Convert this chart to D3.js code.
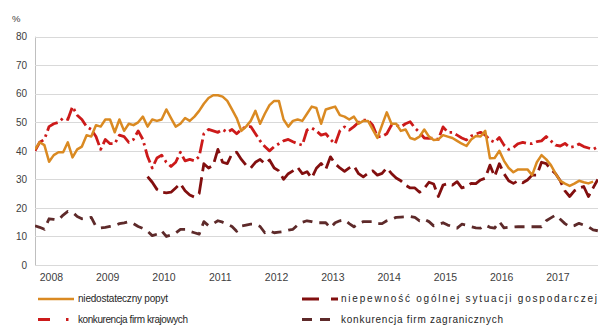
<!DOCTYPE html>
<html><head><meta charset="utf-8">
<script src="https://cdn.jsdelivr.net/npm/d3@7"></script>
<style>
body{margin:0;background:#fff}
svg{display:block}
text{font-family:"Liberation Sans",Arial,sans-serif}
</style>
</head><body>
<svg id="c" width="598" height="326"></svg>
<script>
// ---- data (monthly, first point = March 2008) ----
const years = [2008,2009,2010,2011,2012,2013,2014,2015,2016,2017];
const yTicks = [0,10,20,30,40,50,60,70,80];
const seriesNames = ["niedostateczny popyt","niepewność ogólnej sytuacji gospodarczej","konkurencja firm krajowych","konkurencja firm zagranicznych"];

const popyt = [40.5,43,42,36.2,38.5,39.5,39.5,43,37.7,40.5,41.5,45.5,45,49,48.5,51,51,46.5,51,47,
49.5,49,50,52,48.5,51,50.5,51,54.5,51.5,48.5,49.5,51.5,50.5,52,54,56.5,58.5,59.5,59.5,
59,57.5,54.5,51.5,47,48.5,50.5,54,49.5,53,56,57.5,57.5,51,48.5,50.5,51,50.5,53,55.5,
55,49.5,54.5,55,55.5,52.5,52,51,52,49.5,50.5,50.5,47.5,44.5,49,53.5,49.5,49.5,47,47.5,
44.5,44,45,47.5,45,43.8,44,45.5,45,44.5,43.5,42.5,41.7,44,45.2,45,47,37.4,37.5,40,
36.5,34,32.5,33.5,33.5,33.5,31.5,36,38.5,37,35,32,29.5,28.5,27.7,28.5,29.5,29,28.6,29.2];

const krajowe = [40,43,44,48.5,49.5,50,51.5,51,55.5,52.5,51,48.5,47.5,45,40.5,44,42.5,42.5,45.5,45,
43,44,47,44,38,34,37.5,38.5,36,34.5,36,39.5,36.5,37,36.5,38,46,47.5,47,46.5,
47.5,46.5,47.5,46,47.5,48.5,48.5,46,43.5,41.5,40,41.5,42.5,43.5,44,43.2,42.5,42,47.3,48,
47,45.5,46,44,42.4,47,48.4,47.3,48.5,50,50.8,50.8,49,45,45,46,49,49,48.4,49.5,
50.2,48,46.5,44.5,44.4,44.5,44,48.4,46.5,46.5,45.5,44.5,43.8,45.2,45.9,46.5,45.5,43.8,43,44.7,
42,40.5,41.2,42.5,43,42.6,42.5,43.2,43.5,45,43.5,42,41.7,42.6,41.2,41.5,42.4,41.5,41,40.5,41.4];

const niepewnosc = [null,null,null,null,null,null,null,null,null,null,null,null,null,null,null,null,null,null,null,null,
null,null,null,null,31,29,26.5,25.5,25.3,25.5,27,28.5,26,24.5,23.8,25,35.5,34,35,40.5,
36,35.5,39,39.5,37,35,34,36,37,35.5,36.8,34,33,30,32,33,34.2,32,32.7,30.5,
33.9,35.6,33.5,37.9,35.5,34,32.8,34,34.7,32,30.9,32.1,33,31.5,32.1,34,32.1,30.5,29.5,28,
27,27,25.5,26.9,29,28.4,24,28,28.5,28,29.2,27,27.5,28.6,28.5,29.8,30.4,35,31,35.5,
32,29.5,28.6,29.5,28.8,29.8,31.5,31.5,36,35.5,33.5,32,29.5,26,24,26,27,27.5,24,27,30];

const zagraniczne = [13.7,13.2,12.5,16.2,16,15.8,17.5,18.8,18.5,17,16.2,16.3,16.7,13.5,13,13.2,13.5,13.8,14.5,14.8,
15.2,14.5,13.5,12.8,11.8,10.3,10.8,12,10,10.5,11.2,12.5,12.5,11.8,11.3,10.8,15.2,13.8,14.5,15.5,
15,14.3,13.5,11.8,13.7,14,14.3,14.3,13.5,11.3,12,11.3,11.5,11.7,12.2,12.5,14,15,15.5,15.2,
14.8,14.8,14.8,13,14.8,15.5,15.8,14.5,13.4,14.5,15.2,15.2,15.2,14.5,14.5,15.5,16,16.7,16.8,16.9,
17,16.7,15.5,16,15.2,13.7,14.2,14.8,14,13.5,12.9,14.3,14,13.4,13,12.9,14,13.2,12.9,15.2,
13,13.2,13.3,13.4,13.4,13.4,13.4,13.4,13.4,15.5,16.5,17.5,16,14.5,13.4,13.8,14.6,14,13.4,12.3,12];

// ---- layout ----
const W = 598, H = 326;
const mLeft = 35, mTop = 36.7, mBottom = 265, monthW = 4.69;
const svg = d3.select("#c");

const x = d3.scaleLinear().domain([0, 120]).range([mLeft, mLeft + 120 * monthW]);
const y = d3.scaleLinear().domain([0, 80]).range([mBottom, mTop]);
const yearBand = d3.scaleBand().domain(years).range([x(-2.5), x(117.5)]).padding(0);

const textColor = "#404040";

// y axis + gridlines
const gy = svg.append("g").attr("transform", `translate(${mLeft},0)`)
  .call(d3.axisLeft(y).tickValues(yTicks).tickSize(-(W - mLeft)).tickPadding(8));
gy.select(".domain").attr("stroke", "#bfbfbf").attr("d", `M0.5,${mTop}V${mBottom}`);
gy.selectAll(".tick line").attr("stroke", "#d9d9d9").attr("shape-rendering", "crispEdges");
gy.selectAll(".tick text").attr("fill", textColor).attr("font-size", 10)
  .attr("font-family", "Liberation Sans, Arial, sans-serif");

// x axis labels
const gx = svg.append("g").attr("transform", `translate(0,${mBottom})`)
  .call(d3.axisBottom(yearBand).tickSize(0).tickPadding(9));
gx.select(".domain").remove();
gx.selectAll(".tick text").attr("fill", textColor).attr("font-size", 10.5)
  .attr("font-family", "Liberation Sans, Arial, sans-serif");

svg.append("text").attr("x", 12).attr("y", 21.5).attr("font-size", 9.5)
  .attr("fill", textColor).text("%");

// lines
svg.append("clipPath").attr("id", "clip").append("rect")
  .attr("x", mLeft).attr("y", 0).attr("width", W - mLeft).attr("height", H);

const line = d3.line().defined(d => d != null).x((d, i) => x(i)).y(d => y(d));

const styles = [
  {data: zagraniczne, color: "#5e2a2a", w: 2.8, dash: "10,7"},
  {data: niepewnosc, color: "#820f0f", w: 2.8, dash: "17,6"},
  {data: krajowe, color: "#cc1a1a", w: 2.8, dash: "14,4,2.5,4"},
  {data: popyt, color: "#da8a22", w: 2.5, dash: null}
];
const gl = svg.append("g").attr("clip-path", "url(#clip)");
styles.forEach(s => {
  gl.append("path").datum(s.data)
    .attr("fill", "none").attr("stroke", s.color).attr("stroke-width", s.w)
    .attr("stroke-linejoin", "round")
    .attr("stroke-dasharray", s.dash)
    .attr("d", line);
});

// legend
const legend = [
  {name: seriesNames[0], color: "#da8a22", w: 2.5, dash: null, lx: 38, ly: 299, tx: 78, ty: 302, tl: 90},
  {name: seriesNames[1], color: "#820f0f", w: 2.8, dash: "17,12,8,10", lx: 302, ly: 299, tx: 341, ty: 302, tl: 256},
  {name: seriesNames[2], color: "#cc1a1a", w: 2.8, dash: "12,16,2.5,20", lx: 38, ly: 319.5, tx: 78, ty: 322.5, tl: 110},
  {name: seriesNames[3], color: "#5e2a2a", w: 2.8, dash: "10,8,10,20", lx: 302, ly: 319.5, tx: 341, ty: 322.5, tl: 162}
];
const gL = svg.append("g");
legend.forEach(l => {
  gL.append("line").attr("x1", l.lx).attr("x2", l.lx + 36).attr("y1", l.ly).attr("y2", l.ly)
    .attr("stroke", l.color).attr("stroke-width", l.w).attr("stroke-dasharray", l.dash);
  gL.append("text").attr("x", l.tx).attr("y", l.ty).attr("font-size", 10)
    .attr("fill", "#262626").attr("textLength", l.tl).attr("lengthAdjust", "spacing")
    .text(l.name);
});
</script>
</body></html>
